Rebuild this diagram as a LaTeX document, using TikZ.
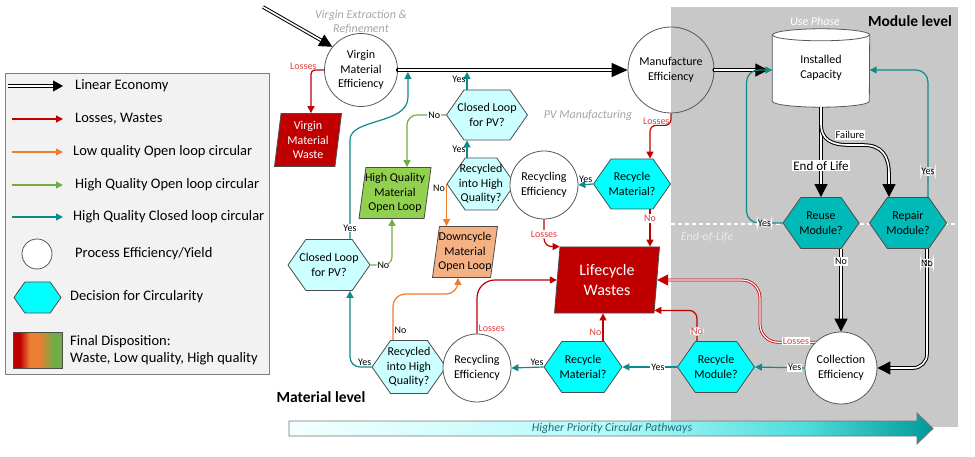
\documentclass[tikz,border=0pt]{standalone}
\usepackage{fontspec}
\setmainfont{Carlito}
\usetikzlibrary{arrows.meta,shapes.geometric,shapes.symbols}

\definecolor{lossred}{HTML}{C00000}
\definecolor{losstext}{HTML}{E03C3C}
\definecolor{loopteal}{HTML}{0F8A8A}
\definecolor{lowora}{HTML}{ED7D31}
\definecolor{hqgreen}{HTML}{70AD47}
\definecolor{hexcyan}{HTML}{00FFFF}
\definecolor{hexlight}{HTML}{CCFFFF}
\definecolor{hexdark}{HTML}{00BABA}
\definecolor{paragreen}{HTML}{92D050}
\definecolor{paraorange}{HTML}{F4B183}
\definecolor{modgray}{HTML}{C8C8C8}
\definecolor{leggray}{HTML}{F2F2F2}
\definecolor{legborder}{HTML}{7F7F7F}
\definecolor{phasegray}{HTML}{A6A6A6}
\definecolor{shapeline}{HTML}{595959}
\definecolor{prioA}{HTML}{F4FFFF}
\definecolor{prioB}{HTML}{B4FAFA}
\definecolor{prioC}{HTML}{4FDCDC}
\definecolor{prioD}{HTML}{009A9A}
\definecolor{priotext}{HTML}{1E6E78}

\pgfdeclarehorizontalshading{priority}{100bp}{color(0bp)=(prioA); color(25bp)=(prioA); color(50bp)=(prioB); color(65bp)=(prioC); color(75bp)=(prioD); color(100bp)=(prioD)}
\pgfdeclarehorizontalshading{dispo}{100bp}{color(0bp)=(lossred); color(32bp)=(lossred); color(42bp)=(lowora); color(52bp)=(lowora); color(66bp)=(hqgreen); color(100bp)=(hqgreen)}

\newcommand{\nodefont}{\fontsize{12}{14.5}\selectfont}
\newcommand{\lblfont}{\fontsize{10}{12}\selectfont}
\newcommand{\legfont}{\fontsize{14.5}{16.5}\selectfont}
\newcommand{\phasefont}{\fontsize{12}{14}\selectfont\itshape}
\newcommand{\levelfont}{\fontsize{15.5}{18}\selectfont\bfseries}
\newcommand{\wastefont}{\fontsize{16}{20}\selectfont}

\tikzset{
  eff/.style={circle, draw=shapeline, line width=0.8pt, minimum size=#1, inner sep=0pt, align=center, font=\nodefont},
  hexa/.style={signal, signal to=east and west, signal pointer angle=110, draw=black!70, line width=0.8pt, fill=#1, minimum width=77pt, minimum height=51pt, inner xsep=-14pt, inner ysep=0pt, align=center, font=\nodefont},
  hexa/.default=hexcyan,
  para/.style={trapezium, trapezium left angle=80, trapezium right angle=100, trapezium stretches body, draw=black!70, line width=0.8pt, fill=#1, inner xsep=-6pt, inner ysep=0pt, align=center, font=\nodefont},
  lbl/.style={font=\lblfont, fill=white, inner sep=1pt},
  losslbl/.style={lbl, text=losstext},
  linear/.style={draw=black, double=white, double distance=1.6pt, line width=1pt, -{Triangle[length=13pt,width=13pt]}},
  loss/.style={draw=lossred, line width=1.2pt, -{Triangle[length=7pt,width=7pt]}},
  lossdbl/.style={draw=lossred, double=white, double distance=1.2pt, line width=0.8pt, -{Triangle[length=11pt,width=11pt]}},
  lowopen/.style={draw=lowora, line width=1.2pt, -{Triangle[length=7pt,width=7pt]}},
  hqopen/.style={draw=hqgreen, line width=1.2pt, -{Triangle[length=7pt,width=7pt]}},
  closedlp/.style={draw=loopteal, line width=1.2pt, -{Triangle[length=7pt,width=7pt]}},
  legtext/.style={font=\legfont, anchor=west, inner sep=0pt, align=left}
}

\begin{document}
\begin{tikzpicture}[x=1pt,y=-1pt]
\useasboundingbox (0,0) rectangle (975,457);

\fill[modgray] (671,7) rectangle (958,427);
\draw[white, line width=1.5pt, dash pattern=on 4pt off 3pt] (671,224) -- (958,224);

\node[font=\phasefont, text=phasegray, align=center] (vxr) at (361,22) {Virgin Extraction \&\\Refinement};
\node[font=\phasefont, text=phasegray] (pvm) at (588,115) {PV Manufacturing};
\node[font=\phasefont, text=white] (usep) at (815,21) {Use Phase};
\node[font=\phasefont, text=white!92!black] (eolph) at (707,237) {End-of-Life};
\node[font=\levelfont] (modlvl) at (910,21) {Module level};
\node[font=\levelfont] (matlvl) at (321,397) {Material level};

\node[draw=legborder, fill=leggray, line width=0.8pt, minimum width=264pt, minimum height=301pt, inner sep=0pt, anchor=north west] (legbox) at (5,73) {};
\node[legtext] (legLin) at (75,86) {Linear Economy};
\node[legtext] (legLoss) at (75,119) {Losses, Wastes};
\node[legtext] (legLow) at (73,152) {Low quality Open loop circular};
\node[legtext] (legHQo) at (75,185) {High Quality Open loop circular};
\node[legtext] (legHQc) at (73,217) {High Quality Closed loop circular};
\node[legtext] (legEffT) at (75,254) {Process Efficiency/Yield};
\node[legtext] (legDecT) at (70,297) {Decision for Circularity};
\node[legtext] (legDispT) at (70,350) {Final Disposition:\\Waste, Low quality, High quality};
\draw[linear, -{Triangle[length=10pt,width=11pt]}] ([xshift=-67pt]legLin.west) -- ([xshift=-12pt]legLin.west);
\draw[loss] ([xshift=-63pt]legLoss.west) -- ([xshift=-12pt]legLoss.west);
\draw[lowopen] ([xshift=-61pt]legLow.west) -- ([xshift=-10pt]legLow.west);
\draw[hqopen] ([xshift=-63pt]legHQo.west) -- ([xshift=-12pt]legHQo.west);
\draw[closedlp] ([xshift=-61pt]legHQc.west) -- ([xshift=-10pt]legHQc.west);
\node[eff=30pt, fill=white] (legEff) at (37,254) {};
\node[hexa=hexcyan, minimum width=47pt, minimum height=31pt, inner xsep=0pt] (legDec) at (37.5,297.5) {};
\node[para=white, shade, shading=dispo, minimum width=49pt, minimum height=36pt] (legDisp) at (37.5,350) {};

\node[eff=73pt] (VME) at (361,70) {Virgin\\Material\\Efficiency};
\node[eff=86pt] (MFE) at (671,70) {Manufacture\\Efficiency};
\node[minimum width=97pt, minimum height=78pt, inner sep=0pt] (IC) at (821,68) {};
\filldraw[fill=white, draw=shapeline, line width=0.8pt] ([yshift=-6pt]IC.north west) -- ([yshift=6pt]IC.south west) arc[start angle=180, end angle=360, x radius=48.5pt, y radius=6pt] -- ([yshift=-6pt]IC.north east) arc[start angle=0, end angle=180, x radius=48.5pt, y radius=6pt] -- cycle;
\draw[shapeline, line width=0.8pt] ([yshift=-6pt]IC.north west) arc[start angle=180, end angle=360, x radius=48.5pt, y radius=6pt];
\node[font=\nodefont, align=center] (ICtext) at (IC.center) {Installed\\Capacity};

\node[para=lossred, text=white, minimum width=67pt, minimum height=53pt] (VMW) at (308,140) {Virgin\\Material\\Waste};
\node[hexa=hexlight, minimum width=81pt, minimum height=50pt] (CLU) at (487,115) {Closed Loop\\for PV?};
\node[hexa=hexlight, minimum width=68pt, minimum height=52pt] (RHQU) at (481,184) {Recycled\\into High\\Quality?};
\node[eff=68pt, fill=white] (RecEU) at (544,185) {Recycling\\Efficiency};
\node[hexa=hexcyan, minimum height=50pt] (RMatU) at (632,184) {Recycle\\Material?};
\node[para=paragreen, minimum width=72pt, minimum height=51pt] (HQM) at (395,193) {High Quality\\Material\\Open Loop};
\node[para=paraorange, minimum width=65pt, minimum height=51pt] (DCM) at (465,252) {Downcycle\\Material\\Open Loop};
\node[para=lossred, text=white, font=\wastefont, minimum width=105pt, minimum height=66pt] (LCW) at (607,280) {Lifecycle\\Wastes};
\node[hexa=hexlight, minimum width=82pt] (CLL) at (329,265) {Closed Loop\\for PV?};
\node[hexa=hexlight, minimum width=74pt, minimum height=53pt] (RHQL) at (409,367) {Recycled\\into High\\Quality?};
\node[eff=68pt, fill=white] (RecEL) at (477,368) {Recycling\\Efficiency};
\node[hexa=hexcyan, minimum width=78pt] (RMatL) at (583,367) {Recycle\\Material?};
\node[hexa=hexcyan] (RModL) at (716,367) {Recycle\\Module?};
\node[eff=72pt, fill=white] (CE) at (841,368) {Collection\\Efficiency};
\node[hexa=hexdark, minimum width=76pt] (Reuse) at (821,223) {Reuse\\Module?};
\node[hexa=hexdark] (Repair) at (908,223) {Repair\\Module?};

\coordinate (src) at (263,7);
\coordinate (hqin) at ([xshift=10pt]VME.east);
\coordinate (lossbend) at (760,300);

\draw[linear] (src) -- (VME.141);
\fill (VME.east) circle (2pt);
\draw[linear, -{Triangle[length=16pt,width=14pt]}] (VME.east) -- (MFE.west);
\fill (MFE.east) circle (2pt);
\draw[linear, shorten >=4pt] (MFE.east) -- (MFE.east -| IC.west);
\draw[linear] (IC.south) -- node[lbl, font=\fontsize{13}{15}\selectfont, pos=0.65]{End of Life} (Reuse.north);
\draw[linear] (IC.south) -- (821,124) .. controls (821,140) and (832,145) .. (849,145) -- (863,145) .. controls (882,145) and (889,156) .. (889,174) -- ([xshift=-19pt]Repair.north);
\node[lbl, font=\fontsize{10.5}{12}\selectfont] (fail) at (850,135) {Failure};
\draw[linear] ([xshift=20pt]Reuse.south) -- node[lbl, pos=0.15]{No} (CE.north);
\draw[linear, rounded corners=14pt] ([xshift=19pt]Repair.south) |- node[lbl, pos=0.06]{No} (CE.east);

\draw[closedlp, rounded corners=12pt] (Reuse.west) -- node[lbl]{Yes} ++(-36,0) |- ([yshift=-2pt]IC.west);
\draw[closedlp, rounded corners=12pt] ([xshift=20pt]Repair.north) |- node[lbl, pos=0.1]{Yes} ([yshift=-2pt]IC.east);
\draw[closedlp] (CE.west) -- node[lbl, pos=0.2]{Yes} (RModL.east);
\draw[closedlp] (RModL.west) -- node[lbl, pos=0.35]{Yes} (RMatL.east);
\draw[closedlp] (RMatL.west) -- node[lbl, above, fill=none, pos=0.2]{Yes} (RecEL.east);
\draw[closedlp] (RMatU.west) -- node[lbl, above, fill=none]{Yes} (RecEU.east);
\draw[closedlp, rounded corners=10pt] (RHQL.west) -| node[lbl, pos=0.16, above, fill=none]{Yes} ([xshift=21pt]CLL.south);
\draw[closedlp, shorten >=2pt] ([xshift=21pt]CLL.north) -- node[lbl, pos=0.11]{Yes} (350,140) .. controls (350,118) and (408,125) .. (408,97) -- (hqin);
\draw[closedlp] ([xshift=-14pt]RHQU.north) -- node[lbl, left, fill=none]{Yes} ([xshift=-14pt]RHQU.north |- CLU.south);
\draw[closedlp, shorten >=2pt] ([xshift=-20pt]CLU.north) -- node[lbl, left, fill=none]{Yes} ([xshift=-20pt]CLU.north |- VME.east);

\draw[hqopen, rounded corners=10pt] (CLU.west) -| node[lbl, pos=0.15]{No} ([xshift=12pt]HQM.north);
\draw[hqopen, rounded corners=8pt] (CLL.east) -| node[lbl, pos=0.3]{No} ([xshift=-3pt]HQM.south);

\draw[lowopen] (RHQU.west) -- node[lbl, left, fill=none, pos=0.1]{No} (RHQU.west |- DCM.north);
\draw[lowopen, rounded corners=12pt] ([xshift=-16pt]RHQL.north) -- node[lbl, right, fill=none, pos=0.22]{No} ++(0,-46) -| ([xshift=-7pt]DCM.south);

\draw[loss, rounded corners=4pt] (VME.west) -| node[losslbl, pos=0.5, anchor=east, xshift=7pt, yshift=4pt, fill=none]{Losses} ([xshift=3pt]VMW.north);
\draw[loss, rounded corners=6pt] (MFE.south) -- node[losslbl, left, fill=none, pos=0.7]{Losses} ++(0,12) -| ([xshift=18pt]RMatU.north);
\draw[loss, rounded corners=8pt] (RecEU.south) |- node[losslbl, pos=0.27]{Losses} (LCW.top left corner);
\draw[loss] ([xshift=18pt]RMatU.south) -- node[losslbl, pos=0.25]{No} ([xshift=18pt]RMatU.south |- LCW.north);
\draw[loss, rounded corners=18pt] (RecEL.north) |- node[losslbl, pos=0.05, right, fill=none]{Losses} (LCW.west);
\draw[loss] ([xshift=20pt]RMatL.north) -- node[losslbl, left, fill=none, pos=0.3]{No} ([xshift=20pt]RMatL.north |- LCW.south);
\draw[loss, rounded corners=8pt] ([xshift=-19pt]RModL.north) |- node[losslbl, pos=0.16]{No} ([yshift=3pt]LCW.bottom right corner);
\draw[lossdbl, rounded corners=18pt] (CE.135) -| (lossbend |- LCW.east) -- (LCW.east);
\node[losslbl] (celoss) at (796,341) {Losses};

\shadedraw[shading=priority, draw=black!55, line width=0.8pt] (289,421) -- (917,421) -- (917,413) -- (933,428.5) -- (917,444) -- (917,436) -- (289,436) -- cycle;
\node[font=\phasefont, text=priotext] (prio) at (612,428.5) {Higher Priority Circular Pathways};
\end{tikzpicture}
\end{document}
